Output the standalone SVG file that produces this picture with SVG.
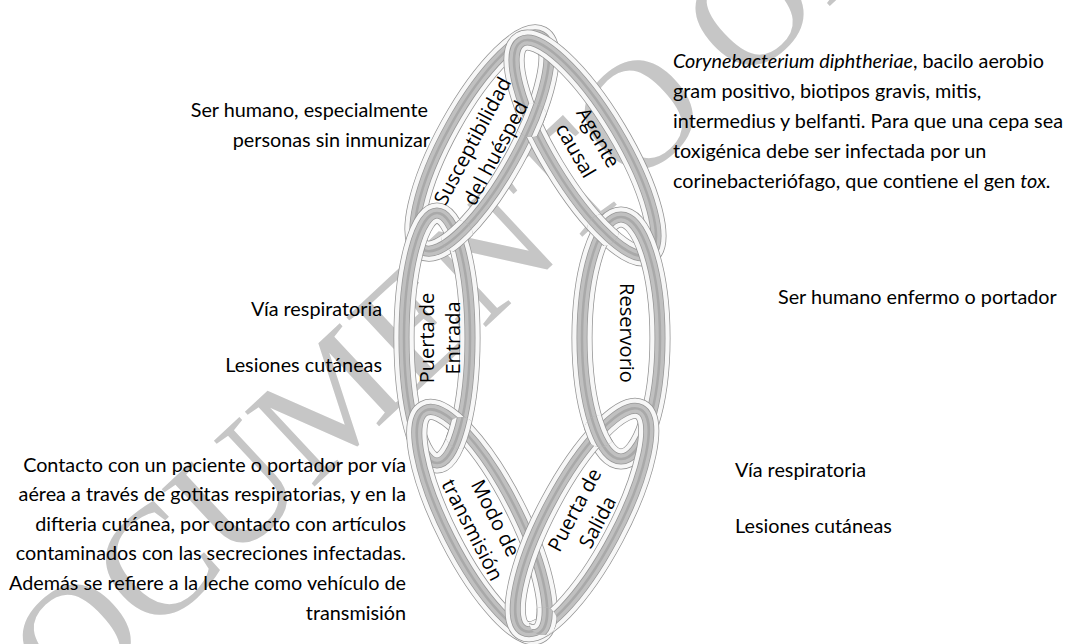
<svg xmlns="http://www.w3.org/2000/svg" width="1067" height="644" viewBox="0 0 1067 644">
<style>
.k1{fill:none;stroke:#939393;stroke-width:21}
.k2{fill:none;stroke:#f7f7f7;stroke-width:19.5}
.k3{fill:none;stroke:#979797;stroke-width:11}
.k4{fill:none;stroke:#c0c0c0;stroke-width:9.5}
.k5{fill:none;stroke:#a9a9a9;stroke-width:2.5}
.body{font-family:Lato,"Liberation Sans",sans-serif;font-size:19.8px;fill:#000}
.lbl{font-family:"Open Sans","DejaVu Sans",sans-serif;font-size:20px;fill:#000;text-anchor:middle}
.wm{font-family:"Liberation Serif",serif;font-size:156px;fill:#c6c6c6}
</style>
<defs>
<ellipse id="eS" cx="0" cy="0" rx="36" ry="122" transform="translate(482,143) rotate(29)"/>
<ellipse id="eA" cx="0" cy="0" rx="36" ry="124" transform="translate(585,148) rotate(-31)"/>
<ellipse id="eE" cx="437" cy="338" rx="33" ry="125"/>
<ellipse id="eR" cx="621" cy="338" rx="39" ry="121"/>
<ellipse id="eM" cx="0" cy="0" rx="36" ry="125" transform="translate(482,522) rotate(-27)"/>
<ellipse id="eP" cx="0" cy="0" rx="36" ry="125" transform="translate(582,520) rotate(28)"/>
<g id="lS"><use href="#eS" class="k1"/><use href="#eS" class="k2"/><use href="#eS" class="k3"/><use href="#eS" class="k4"/><use href="#eS" class="k5"/></g>
<g id="lA"><use href="#eA" class="k1"/><use href="#eA" class="k2"/><use href="#eA" class="k3"/><use href="#eA" class="k4"/><use href="#eA" class="k5"/></g>
<g id="lE"><use href="#eE" class="k1"/><use href="#eE" class="k2"/><use href="#eE" class="k3"/><use href="#eE" class="k4"/><use href="#eE" class="k5"/></g>
<g id="lR"><use href="#eR" class="k1"/><use href="#eR" class="k2"/><use href="#eR" class="k3"/><use href="#eR" class="k4"/><use href="#eR" class="k5"/></g>
<g id="lM"><use href="#eM" class="k1"/><use href="#eM" class="k2"/><use href="#eM" class="k3"/><use href="#eM" class="k4"/><use href="#eM" class="k5"/></g>
<g id="lP"><use href="#eP" class="k1"/><use href="#eP" class="k2"/><use href="#eP" class="k3"/><use href="#eP" class="k4"/><use href="#eP" class="k5"/></g>
<clipPath id="cSA" clipPathUnits="userSpaceOnUse"><circle cx="531" cy="120" r="17"/></clipPath>
<clipPath id="cSE" clipPathUnits="userSpaceOnUse"><circle cx="457" cy="236" r="16"/></clipPath>
<clipPath id="cAR" clipPathUnits="userSpaceOnUse"><circle cx="603" cy="230" r="16"/></clipPath>
<clipPath id="cEM" clipPathUnits="userSpaceOnUse"><circle cx="461" cy="433" r="16"/></clipPath>
<clipPath id="cRP" clipPathUnits="userSpaceOnUse"><circle cx="600" cy="431" r="16"/></clipPath>
<clipPath id="cMP" clipPathUnits="userSpaceOnUse"><circle cx="543" cy="621" r="14"/></clipPath>
</defs>
<rect width="1067" height="644" fill="#fff"/>
<text class="wm" transform="translate(-12,791) rotate(-43)">DOCUMENTO OFICIAL</text>

<g id="chain">
<use href="#lS"/>
<use href="#lA"/>
<use href="#lE"/>
<use href="#lR"/>
<use href="#lM"/>
<use href="#lP"/>
<use href="#lS" clip-path="url(#cSA)"/>
<use href="#lS" clip-path="url(#cSE)"/>
<use href="#lA" clip-path="url(#cAR)"/>
<use href="#lE" clip-path="url(#cEM)"/>
<use href="#lR" clip-path="url(#cRP)"/>
<use href="#lM" clip-path="url(#cMP)"/>
</g>

<g id="node-susceptibilidad">
<text class="lbl" transform="translate(484,147) rotate(-62)"><tspan x="0" y="-6">Susceptibilidad</tspan><tspan x="0" y="20">del huésped</tspan></text>
<text class="body" text-anchor="end"><tspan x="428" y="117">Ser humano, especialmente</tspan><tspan x="430" y="147">personas sin inmunizar</tspan></text>
</g>
<g id="node-agente">
<text class="lbl" transform="translate(587,144) rotate(60)"><tspan x="0" y="-6">Agente</tspan><tspan x="0" y="20">causal</tspan></text>
<text class="body"><tspan x="673" y="68"><tspan font-style="italic">Corynebacterium diphtheriae</tspan>, bacilo aerobio</tspan><tspan x="673" y="98">gram positivo, biotipos gravis, mitis,</tspan><tspan x="673" y="128">intermedius y belfanti. Para que una cepa sea</tspan><tspan x="673" y="158">toxigénica debe ser infectada por un</tspan><tspan x="673" y="188">corinebacteriófago, que contiene el gen <tspan font-style="italic">tox.</tspan></tspan></text>
</g>
<g id="node-entrada">
<text class="lbl" transform="translate(440,338) rotate(-90)"><tspan x="0" y="-6">Puerta de</tspan><tspan x="0" y="20">Entrada</tspan></text>
<text class="body" text-anchor="end"><tspan x="382" y="316">Vía respiratoria</tspan><tspan x="382" y="372">Lesiones cutáneas</tspan></text>
</g>
<g id="node-reservorio">
<text class="lbl" transform="translate(627,333) rotate(90)"><tspan x="0" y="7">Reservorio</tspan></text>
<text class="body" x="778" y="304">Ser humano enfermo o portador</text>
</g>
<g id="node-modo">
<text class="lbl" transform="translate(484,524) rotate(63)"><tspan x="0" y="-6">Modo de</tspan><tspan x="0" y="20">transmisión</tspan></text>
<text class="body" text-anchor="end"><tspan x="406" y="472">Contacto con un paciente o portador por vía</tspan><tspan x="406" y="501">aérea a través de gotitas respiratorias, y en la</tspan><tspan x="406" y="531">difteria cutánea, por contacto con artículos</tspan><tspan x="406" y="560">contaminados con las secreciones infectadas.</tspan><tspan x="406" y="590">Además se refiere a la leche como vehículo de</tspan><tspan x="406" y="620">transmisión</tspan></text>
</g>
<g id="node-salida">
<text class="lbl" transform="translate(586,516) rotate(-62)"><tspan x="0" y="-6">Puerta de</tspan><tspan x="0" y="20">Salida</tspan></text>
<text class="body"><tspan x="735" y="477">Vía respiratoria</tspan><tspan x="735" y="533">Lesiones cutáneas</tspan></text>
</g>
</svg>
